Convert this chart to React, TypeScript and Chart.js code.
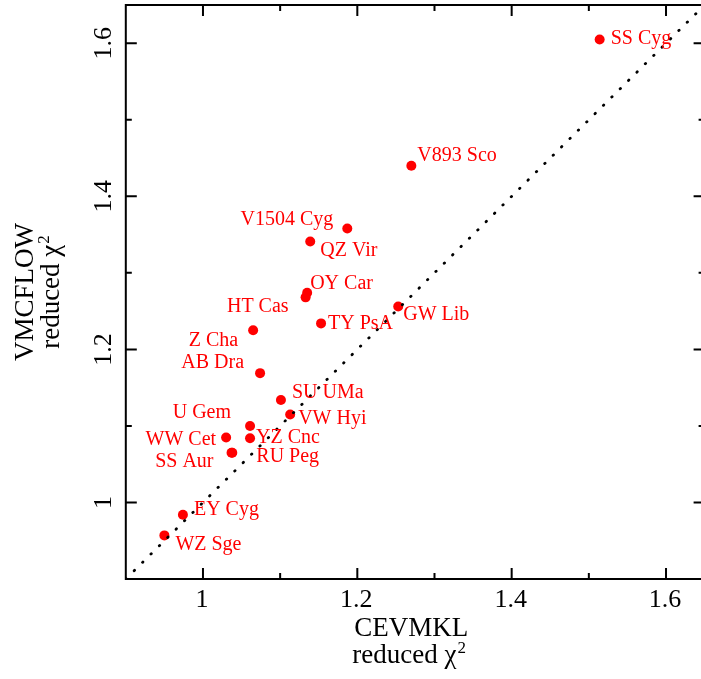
import React, { useEffect, useRef } from "react";
import { Chart, registerables } from "chart.js";

Chart.register(...registerables);

// ---- data ----
const starNames = [
  "SS Cyg", "V893 Sco", "V1504 Cyg", "QZ Vir", "OY Car", "HT Cas", "TY PsA",
  "GW Lib", "Z Cha", "AB Dra", "SU UMa", "VW Hyi", "U Gem", "WW Cet",
  "YZ Cnc", "SS Aur", "RU Peg", "EY Cyg", "WZ Sge",
];
const cevmklChi2 = [
  1.514, 1.270, 1.187, 1.139, 1.135, 1.133, 1.153,
  1.253, 1.065, 1.074, 1.101, 1.113, 1.061, 1.030,
  1.061, 1.037, 1.038, 0.974, 0.950,
];
const vmcflowChi2 = [
  1.605, 1.440, 1.358, 1.341, 1.274, 1.268, 1.234,
  1.256, 1.225, 1.169, 1.134, 1.115, 1.100, 1.085,
  1.084, 1.065, 1.065, 0.984, 0.957,
];
const identityLineX = [0.9, 1.65];
const identityLineY = [0.9, 1.65];
const axisMin = 0.9;
const axisMax = 1.65;
const majorTicks = [1, 1.2, 1.4, 1.6];
const majorTickLabels = ["1", "1.2", "1.4", "1.6"];
const minorTicks = [1.1, 1.3, 1.5];
const xTitle = ["CEVMKL", "reduced \u03c7"];
const yTitle = ["VMCFLOW", "reduced \u03c7"];

// label placement (pixel offsets from the point; styling only)
const labelSide = [
  "L", "L", "R", "L", "L", "R", "L",
  "L", "R", "R", "L", "L", "R", "R",
  "L", "R", "L", "L", "L",
];
const labelDx = [
  11, 6, -14, 10, 3, -17, 7,
  5, -15, -16, 11, 8, -19, -10,
  6, -18, 24, 11, 11,
];
const labelDy = [
  -1, -10, -9, 9, -9, 9, 0,
  8, 10, -10, -7, 4, -13, 2,
  0, 9, 4, -5, 9,
];

const SERIF = '"Liberation Serif", "Times New Roman", serif';

const overlayPlugin = {
  id: "overlay",
  afterDraw(chart: any) {
    const ctx = chart.ctx as CanvasRenderingContext2D;
    const xs = chart.scales.x;
    const ys = chart.scales.y;
    const a = chart.chartArea;
    ctx.save();

    // frame
    ctx.strokeStyle = "#000";
    ctx.lineWidth = 2;
    ctx.setLineDash([]);
    ctx.strokeRect(a.left, a.top, a.right - a.left, a.bottom - a.top);

    // ticks (inward)
    const drawTicks = (vals: number[], len: number) => {
      ctx.beginPath();
      for (const v of vals) {
        const px = xs.getPixelForValue(v);
        ctx.moveTo(px, a.bottom);
        ctx.lineTo(px, a.bottom - len);
        ctx.moveTo(px, a.top);
        ctx.lineTo(px, a.top + len);
        const py = ys.getPixelForValue(v);
        ctx.moveTo(a.left, py);
        ctx.lineTo(a.left + len, py);
        ctx.moveTo(a.right, py);
        ctx.lineTo(a.right - len, py);
      }
      ctx.stroke();
    };
    drawTicks(majorTicks, 11);
    drawTicks(minorTicks, 6);

    // tick labels
    ctx.fillStyle = "#000";
    ctx.font = `26px ${SERIF}`;
    ctx.textAlign = "center";
    ctx.textBaseline = "alphabetic";
    majorTicks.forEach((v, i) => {
      const px = xs.getPixelForValue(v);
      ctx.fillText(majorTickLabels[i], px - 1, a.bottom + 28);
    });
    majorTicks.forEach((v, i) => {
      const py = ys.getPixelForValue(v);
      ctx.save();
      ctx.translate(a.left - 15, py);
      ctx.rotate(-Math.PI / 2);
      ctx.fillText(majorTickLabels[i], 0, 0);
      ctx.restore();
    });

    // titles
    const drawChiLine = (text: string, cx: number, baseY: number) => {
      ctx.font = `27px ${SERIF}`;
      const w1 = ctx.measureText(text).width;
      ctx.font = `17px ${SERIF}`;
      const w2 = ctx.measureText("2").width;
      const start = cx - (w1 + w2 + 1) / 2;
      ctx.textAlign = "left";
      ctx.font = `27px ${SERIF}`;
      ctx.fillText(text, start, baseY);
      ctx.font = `17px ${SERIF}`;
      ctx.fillText("2", start + w1 + 1, baseY - 10);
    };
    const cx = (a.left + a.right) / 2 - 4;
    ctx.textAlign = "center";
    ctx.font = `27px ${SERIF}`;
    ctx.fillText(xTitle[0], cx, a.bottom + 57);
    drawChiLine(xTitle[1], cx - 2, a.bottom + 84);

    const cy = (a.top + a.bottom) / 2;
    ctx.save();
    ctx.translate(33, cy);
    ctx.rotate(-Math.PI / 2);
    ctx.textAlign = "center";
    ctx.font = `27px ${SERIF}`;
    ctx.fillText(yTitle[0], 0, 0);
    ctx.restore();
    ctx.save();
    ctx.translate(59, cy);
    ctx.rotate(-Math.PI / 2);
    drawChiLine(yTitle[1], 0, 0);
    ctx.restore();

    // point labels
    ctx.fillStyle = "#ff0000";
    ctx.font = `20px ${SERIF}`;
    ctx.textBaseline = "middle";
    starNames.forEach((name, i) => {
      const px = xs.getPixelForValue(cevmklChi2[i]);
      const py = ys.getPixelForValue(vmcflowChi2[i]);
      ctx.textAlign = labelSide[i] === "L" ? "left" : "right";
      ctx.fillText(name, px + labelDx[i], py + labelDy[i]);
    });

    ctx.restore();
  },
};

export default function App() {
  const ref = useRef<HTMLCanvasElement | null>(null);
  useEffect(() => {
    if (!ref.current) return;
    const chart = new Chart(ref.current, {
      type: "scatter",
      data: {
        datasets: [
          {
            type: "line",
            label: "y = x",
            data: identityLineX.map((x, i) => ({ x, y: identityLineY[i] })),
            borderColor: "#000",
            borderWidth: 2.8,
            borderDash: [0.5, 11.3],
            borderCapStyle: "round",
            pointRadius: 0,
            fill: false,
          } as any,
          {
            label: "stars",
            data: cevmklChi2.map((x, i) => ({ x, y: vmcflowChi2[i] })),
            backgroundColor: "#ff0000",
            borderColor: "#ff0000",
            borderWidth: 0,
            pointRadius: 5,
          },
        ],
      },
      options: {
        animation: false,
        responsive: false,
        devicePixelRatio: 1,
        layout: { padding: { left: 125.8, top: 4.4, right: 7.4, bottom: 100 } },
        plugins: { legend: { display: false }, tooltip: { enabled: false } },
        scales: {
          x: { type: "linear", min: axisMin, max: axisMax, display: false },
          y: { type: "linear", min: axisMin, max: axisMax, display: false },
        },
      },
      plugins: [overlayPlugin],
    });
    return () => chart.destroy();
  }, []);
  return (
    <div style={{ position: "fixed", left: 0, top: 0, width: 712, height: 679, background: "#fff" }}>
      <canvas ref={ref} width={712} height={679} style={{ display: "block", width: 712, height: 679 }} />
    </div>
  );
}
